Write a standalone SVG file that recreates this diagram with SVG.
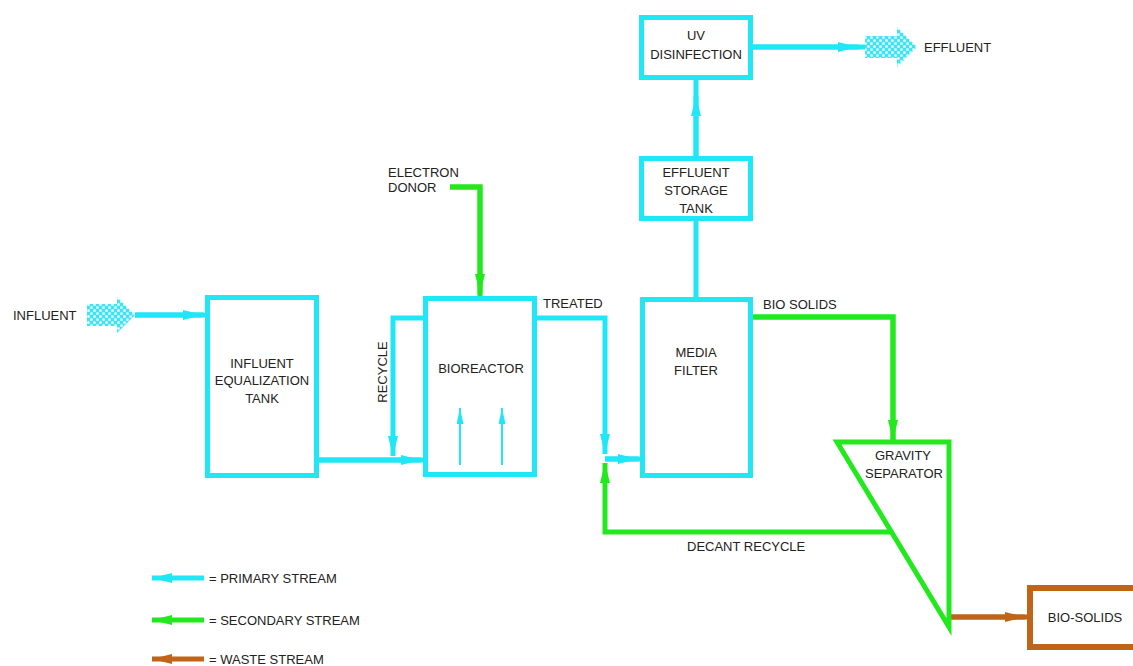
<svg xmlns="http://www.w3.org/2000/svg" width="1133" height="666" viewBox="0 0 1133 666">
<defs>
<style>
.box{fill:#fff;stroke:#20e6f6;stroke-width:5}
.boxB{fill:#fff;stroke:#c06418;stroke-width:6}
.tri{fill:#fff;stroke:#22e81e;stroke-width:5;stroke-linejoin:miter}
.c{fill:none;stroke:#20e6f6;stroke-width:5}
.g{fill:none;stroke:#22e81e;stroke-width:5}
.b{fill:none;stroke:#c06418;stroke-width:5}
.thin{fill:none;stroke:#20e6f6;stroke-width:2}
text{font-family:"Liberation Sans",Arial,sans-serif;font-size:13px;fill:#222}
.m{text-anchor:middle}
</style>
<marker id="ac" markerUnits="userSpaceOnUse" markerWidth="22" markerHeight="10" refX="20" refY="5" orient="auto"><path d="M0,0 L20,5 L0,10 z" fill="#20e6f6"/></marker>
<marker id="ag" markerUnits="userSpaceOnUse" markerWidth="22" markerHeight="10" refX="20" refY="5" orient="auto"><path d="M0,0 L20,5 L0,10 z" fill="#22e81e"/></marker>
<marker id="ab" markerUnits="userSpaceOnUse" markerWidth="22" markerHeight="10" refX="20" refY="5" orient="auto"><path d="M0,0 L20,5 L0,10 z" fill="#c06418"/></marker>
<marker id="at" markerUnits="userSpaceOnUse" markerWidth="18" markerHeight="8" refX="16" refY="3.5" orient="auto"><path d="M0,0 L16,3.5 L0,7 z" fill="#20e6f6"/></marker>
<pattern id="hatch" width="6" height="6" patternUnits="userSpaceOnUse">
<rect width="6" height="6" fill="#3fe3f3"/>
<circle cx="1.5" cy="1.5" r="1.5" fill="#d8fbfe"/>
<circle cx="4.5" cy="4.5" r="1.5" fill="#d8fbfe"/>
</pattern>
</defs>
<rect width="1133" height="666" fill="#fff"/>

<g id="connectors">
<path class="c" d="M135,315 H205"/>
<path class="c" d="M135,315 H203" marker-end="url(#ac)"/>
<path class="c" d="M319,460 H423"/>
<path class="c" d="M319,460 H421" marker-end="url(#ac)"/>
<path class="c" d="M423,318 H393 V456" marker-end="url(#ac)"/>
<path class="g" d="M450,187 H480 V296"/>
<path class="g" d="M450,187 H480 V294" marker-end="url(#ag)"/>
<path class="c" d="M537,318 H605 V454" marker-end="url(#ac)"/>
<path class="c" d="M605,459 H640"/>
<path class="c" d="M605,459 H638" marker-end="url(#ac)"/>
<path class="g" d="M890,532 H605 V463" marker-end="url(#ag)"/>
<path class="g" d="M753,317 H893 V442"/>
<path class="g" d="M753,317 H893 V440" marker-end="url(#ag)"/>
<path class="c" d="M696,297 V221"/>
<path class="c" d="M696,156 V80"/>
<path class="c" d="M696,156 V96" marker-end="url(#ac)"/>
<path class="c" d="M753,47 H866"/>
<path class="c" d="M753,47 H858" marker-end="url(#ac)"/>
<path class="b" d="M950,617 H1027"/>
<path class="b" d="M950,617 H1025" marker-end="url(#ab)"/>
</g>

<g id="influent">
<polygon points="87,304 117,304 117,297 135,315 117,333 117,326 87,326" fill="url(#hatch)"/>
<text x="13" y="320">INFLUENT</text>
</g>

<g id="effluent">
<polygon points="865,36 897,36 897,27 917,47 897,67 897,58 865,58" fill="url(#hatch)"/>
<text x="924" y="52">EFFLUENT</text>
</g>

<g id="equalization-tank">
<rect class="box" x="207.5" y="297.5" width="109" height="178"/>
<text class="m" x="262" y="368">INFLUENT</text>
<text class="m" x="262" y="385">EQUALIZATION</text>
<text class="m" x="262" y="403">TANK</text>
</g>

<g id="bioreactor">
<rect class="box" x="425.5" y="298.5" width="109" height="176"/>
<text class="m" x="481" y="373">BIOREACTOR</text>
<path class="thin" d="M460,465 V408" marker-end="url(#at)"/>
<path class="thin" d="M502,465 V408" marker-end="url(#at)"/>
</g>

<g id="media-filter">
<rect class="box" x="642.5" y="299.5" width="108" height="176"/>
<text class="m" x="696" y="357">MEDIA</text>
<text class="m" x="696" y="375">FILTER</text>
</g>

<g id="storage-tank">
<rect class="box" x="641.5" y="158.5" width="109" height="60"/>
<text class="m" x="696" y="177">EFFLUENT</text>
<text class="m" x="696" y="195">STORAGE</text>
<text class="m" x="696" y="213">TANK</text>
</g>

<g id="uv-disinfection">
<rect class="box" x="641.5" y="17.5" width="109" height="60"/>
<text class="m" x="696" y="40">UV</text>
<text class="m" x="696" y="59">DISINFECTION</text>
</g>

<g id="gravity-separator">
<polygon class="tri" points="837,442 949,442 949,627"/>
<text class="m" x="903" y="460">GRAVITY</text>
<text class="m" x="904" y="478">SEPARATOR</text>
</g>

<g id="bio-solids">
<rect class="boxB" x="1030" y="588" width="120" height="59"/>
<text class="m" x="1085" y="622">BIO-SOLIDS</text>
</g>

<g id="labels">
<text x="388" y="177">ELECTRON</text>
<text x="388" y="192">DONOR</text>
<text x="543" y="308">TREATED</text>
<text x="763" y="309">BIO SOLIDS</text>
<text x="687" y="551">DECANT RECYCLE</text>
<text class="m" transform="translate(387,372) rotate(-90)">RECYCLE</text>
</g>

<g id="legend">
<path class="c" d="M204,578 H152" marker-end="url(#ac)"/>
<text x="209" y="583">= PRIMARY STREAM</text>
<path class="g" d="M204,620 H152" marker-end="url(#ag)"/>
<text x="209" y="625">= SECONDARY STREAM</text>
<path class="b" d="M204,659 H152" marker-end="url(#ab)"/>
<text x="209" y="664">= WASTE STREAM</text>
</g>
</svg>
